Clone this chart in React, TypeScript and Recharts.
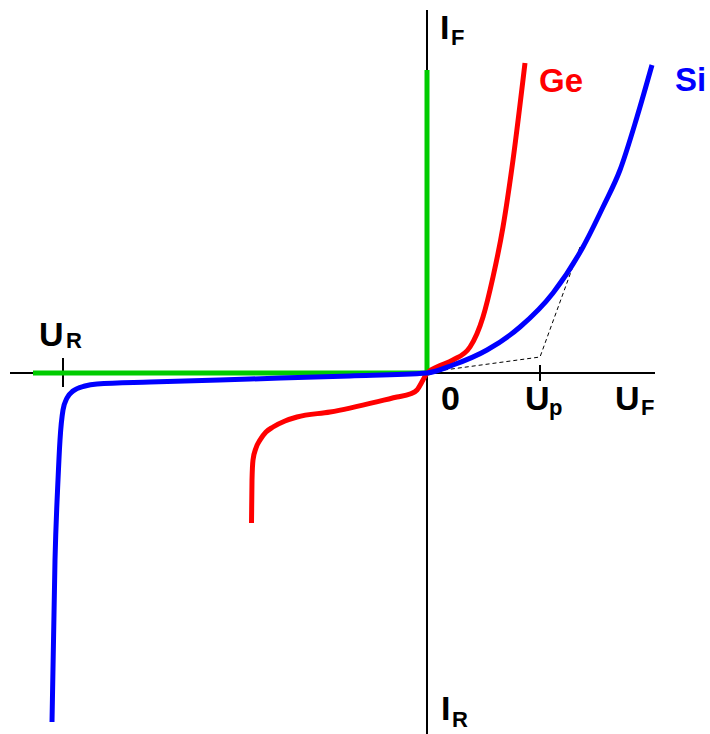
import { LineChart, Line, XAxis, YAxis } from "recharts";

// Diode I–V characteristic (arbitrary units; origin at the axis crossing)
const siCurve = [
  { x: -3.75, y: -3.49 },
  { x: -3.72, y: -1.87 },
  { x: -3.69, y: -1.07 },
  { x: -3.67, y: -0.67 },
  { x: -3.64, y: -0.37 },
  { x: -3.6, y: -0.25 },
  { x: -3.54, y: -0.18 },
  { x: -3.42, y: -0.13 },
  { x: -3.3, y: -0.11 },
  { x: -2.77, y: -0.09 },
  { x: -1.77, y: -0.06 },
  { x: -0.77, y: -0.03 },
  { x: 0, y: 0 },
  { x: 0.26, y: 0.08 },
  { x: 0.6, y: 0.23 },
  { x: 0.93, y: 0.46 },
  { x: 1.26, y: 0.8 },
  { x: 1.56, y: 1.26 },
  { x: 1.76, y: 1.66 },
  { x: 1.93, y: 2.03 },
  { x: 2.1, y: 2.56 },
  { x: 2.25, y: 3.08 },
];

const geCurve = [
  { x: -1.755, y: -1.5 },
  { x: -1.75, y: -1.07 },
  { x: -1.74, y: -0.87 },
  { x: -1.71, y: -0.75 },
  { x: -1.67, y: -0.67 },
  { x: -1.61, y: -0.59 },
  { x: -1.54, y: -0.54 },
  { x: -1.42, y: -0.48 },
  { x: -1.3, y: -0.44 },
  { x: -0.97, y: -0.39 },
  { x: -0.3, y: -0.24 },
  { x: -0.17, y: -0.21 },
  { x: -0.1, y: -0.17 },
  { x: -0.04, y: -0.07 },
  { x: 0, y: 0 },
  { x: 0.1, y: 0.06 },
  { x: 0.26, y: 0.13 },
  { x: 0.43, y: 0.26 },
  { x: 0.56, y: 0.56 },
  { x: 0.66, y: 0.96 },
  { x: 0.76, y: 1.46 },
  { x: 0.86, y: 2.13 },
  { x: 0.98, y: 3.1 },
];

// ideal diode (green) and the threshold construction (dashed)
const idealCurve = [
  { x: -3.94, y: 0 },
  { x: 0, y: 0 },
  { x: 0, y: 3.03 },
];
const thresholdLine = [
  { x: 0.1, y: 0.02 },
  { x: 1.13, y: 0.16 },
  { x: 1.53, y: 1.26 },
];

const axisU = [
  { x: -4.17, y: 0 },
  { x: 2.28, y: 0 },
];
const axisI = [
  { x: 0, y: 3.63 },
  { x: 0, y: -3.61 },
];
const tickUR = [
  { x: -3.64, y: 0.15 },
  { x: -3.64, y: -0.14 },
];
const tickUp = [
  { x: 1.13, y: 0.08 },
  { x: 1.13, y: -0.08 },
];

const W = 710;
const H = 734;
const FONT = "'Liberation Sans', Arial, sans-serif";

function Labels() {
  const main = { fontFamily: FONT, fontWeight: 700, fontSize: 34 };
  const sub = { fontFamily: FONT, fontWeight: 700, fontSize: 22 };
  return (
    <svg
      width={W}
      height={H}
      style={{ position: "absolute", left: 0, top: 0, pointerEvents: "none" }}
    >
      <text x={440} y={39} {...main}>I</text>
      <text x={451} y={45} {...sub}>F</text>

      <text x={441} y={720} {...main}>I</text>
      <text x={452} y={727} {...sub}>R</text>

      <text x={39} y={346} {...main}>U</text>
      <text x={66} y={348} {...sub}>R</text>

      <text x={441} y={410} {...main}>0</text>

      <text x={525} y={410} {...main}>U</text>
      <text x={549} y={415} {...sub}>p</text>

      <text x={615} y={410} {...main}>U</text>
      <text x={641} y={415} {...sub}>F</text>

      <text x={539} y={92} {...main} fontSize={33} fill="#ff0000">Ge</text>
      <text x={675} y={91} {...main} fontSize={33} fill="#0000ff">Si</text>
    </svg>
  );
}

export default function App() {
  const common = {
    dataKey: "y",
    dot: false,
    activeDot: false,
    isAnimationActive: false,
  } as const;

  return (
    <div style={{ position: "absolute", left: 0, top: 0, width: W, height: H, background: "#fff" }}>
      <LineChart width={W} height={H} margin={{ top: 0, right: 0, bottom: 0, left: 0 }}>
        <XAxis type="number" dataKey="x" domain={[-4.27, 2.83]} allowDataOverflow hide />
        <YAxis type="number" domain={[-3.61, 3.73]} allowDataOverflow hide />

        <Line {...common} data={axisU} type="linear" stroke="#000" strokeWidth={2} />
        <Line {...common} data={axisI} type="linear" stroke="#000" strokeWidth={2} />
        <Line {...common} data={tickUR} type="linear" stroke="#000" strokeWidth={2} />
        <Line {...common} data={tickUp} type="linear" stroke="#000" strokeWidth={2} />
        <Line
          {...common}
          data={thresholdLine}
          type="linear"
          stroke="#000"
          strokeWidth={1}
          strokeDasharray="4 3"
        />
        <Line {...common} data={idealCurve} type="linear" stroke="#00cc00" strokeWidth={5} />
        <Line {...common} data={geCurve} type="monotone" stroke="#ff0000" strokeWidth={5} />
        <Line {...common} data={siCurve} type="monotone" stroke="#0000ff" strokeWidth={5} />
      </LineChart>
      <Labels />
    </div>
  );
}
